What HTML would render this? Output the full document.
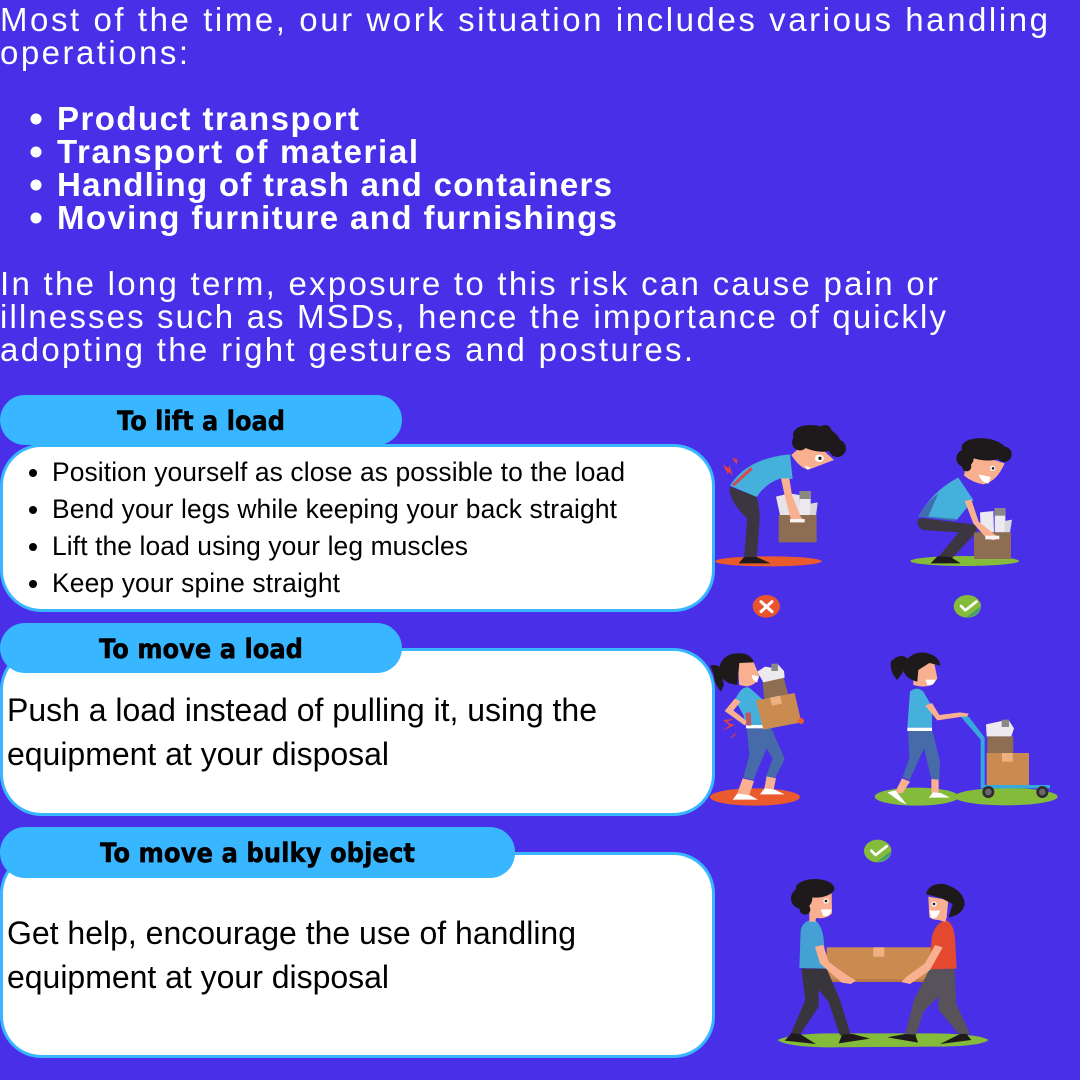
<!DOCTYPE html>
<html lang="en">
<head>
<meta charset="utf-8">
<title>Manual handling guidance</title>
<style>
html,body{margin:0;padding:0;width:1080px;height:1080px;overflow:hidden;background:#4a2fe8;}
svg{display:block;}
.intro{font-family:"Liberation Sans",sans-serif;font-size:33px;fill:#fff;}
.introb{font-family:"Liberation Sans",sans-serif;font-size:33px;font-weight:700;fill:#fff;}
.head{font-family:"DejaVu Sans",sans-serif;font-size:27px;font-weight:700;fill:#000;stroke:#000;stroke-width:.5;}
.li{font-family:"Liberation Sans",sans-serif;font-size:26.4px;fill:#000;}
.big{font-family:"Liberation Sans",sans-serif;font-size:32px;fill:#000;}
</style>
</head>
<body>
<svg width="1080" height="1080" viewBox="0 0 1080 1080" xmlns="http://www.w3.org/2000/svg">
<rect width="1080" height="1080" fill="#4a2fe8"/>

<g>
<text class="intro" x="0" y="31" textLength="1048">Most of the time, our work situation includes various handling</text>
<text class="intro" x="0" y="64" textLength="188">operations:</text>
</g>

<g>
<circle cx="36" cy="119" r="5.5" fill="#fff"/>
<circle cx="36" cy="152" r="5.5" fill="#fff"/>
<circle cx="36" cy="185" r="5.5" fill="#fff"/>
<circle cx="36" cy="218" r="5.5" fill="#fff"/>
<text class="introb" x="57" y="130" textLength="302">Product transport</text>
<text class="introb" x="57" y="163" textLength="361">Transport of material</text>
<text class="introb" x="57" y="196" textLength="555">Handling of trash and containers</text>
<text class="introb" x="57" y="229" textLength="560">Moving furniture and furnishings</text>
</g>

<g>
<text class="intro" x="0" y="295" textLength="938">In the long term, exposure to this risk can cause pain or</text>
<text class="intro" x="0" y="328" textLength="946">illnesses such as MSDs, hence the importance of quickly</text>
<text class="intro" x="0" y="361" textLength="693">adopting the right gestures and postures.</text>
</g>

<!-- Panel 1 -->
<g>
<rect x="1.5" y="445.5" width="712" height="165" rx="40" fill="#fff" stroke="#38b6ff" stroke-width="3"/>
<rect x="0" y="395" width="402" height="50" rx="25" fill="#38b6ff"/>
<text class="head" x="117" y="430" textLength="168" lengthAdjust="spacingAndGlyphs">To lift a load</text>
<circle cx="33" cy="473" r="4" fill="#000"/>
<circle cx="33" cy="510" r="4" fill="#000"/>
<circle cx="33" cy="547" r="4" fill="#000"/>
<circle cx="33" cy="584" r="4" fill="#000"/>
<text class="li" x="52" y="481" textLength="573">Position yourself as close as possible to the load</text>
<text class="li" x="52" y="518" textLength="565">Bend your legs while keeping your back straight</text>
<text class="li" x="52" y="555" textLength="416">Lift the load using your leg muscles</text>
<text class="li" x="52" y="592" textLength="288">Keep your spine straight</text>
</g>

<!-- Panel 2 -->
<g>
<rect x="1.5" y="649.5" width="712" height="165" rx="40" fill="#fff" stroke="#38b6ff" stroke-width="3"/>
<rect x="0" y="623" width="402" height="50" rx="25" fill="#38b6ff"/>
<text class="head" x="99" y="658" textLength="204" lengthAdjust="spacingAndGlyphs">To move a load</text>
<text class="big" x="7" y="721" textLength="590">Push a load instead of pulling it, using the</text>
<text class="big" x="7" y="765" textLength="382">equipment at your disposal</text>
</g>

<!-- Panel 3 -->
<g>
<rect x="1.5" y="853.5" width="712" height="203" rx="40" fill="#fff" stroke="#38b6ff" stroke-width="3"/>
<rect x="0" y="827" width="515" height="51" rx="25" fill="#38b6ff"/>
<text class="head" x="100" y="862" textLength="315" lengthAdjust="spacingAndGlyphs">To move a bulky object</text>
<text class="big" x="7" y="944" textLength="569">Get help, encourage the use of handling</text>
<text class="big" x="7" y="988" textLength="382">equipment at your disposal</text>
</g>

<!-- Lifting illustrations (drawn in 3x coordinates) -->
<g transform="translate(710,415) scale(0.33333)">
  <g>
    <ellipse cx="175" cy="439" rx="160" ry="15" fill="#ea5a2d"/>
    <path d="M58,215 L140,245 Q152,290 148,325 L140,430 L102,430 L112,310 Q58,262 58,215Z" fill="#3b3640"/>
    <path d="M86,445 L102,426 L140,426 L182,445Z" fill="#1e1a1c"/>
    <path d="M198,245 L238,235 L268,240 L272,300 L210,300Z" fill="#e6e4e8"/>
    <rect x="269" y="228" width="33" height="74" fill="#eceaee"/>
    <rect x="269" y="228" width="33" height="24" fill="#8c8884"/>
    <path d="M302,266 L323,262 L318,302 L298,302Z" fill="#d8d6da"/>
    <rect x="206" y="300" width="114" height="82" fill="#8d6e52"/>
    <path d="M60,212 Q110,130 240,118 L248,192 L212,190 Q170,202 140,246Z" fill="#45b0dc"/>
    <path d="M66,208 L72,214 L128,164 L122,156Z" fill="#e2403f" opacity=".9"/>
    <path d="M38,148 L56,160 L58,150 L68,182 L56,170 L54,178Z M66,128 L82,134 L84,126 L80,148 L74,140Z" fill="#e2403f"/>
    <path d="M213,190 L238,190 L246,240 L272,305 L284,322 L245,322 L226,250Z" fill="#f9b090"/>
    <rect x="240" y="312" width="44" height="10" fill="#f5f3f3"/>
    <path d="M244,120 L300,70 L372,135 L296,164 Q270,160 244,120Z" fill="#f9b090"/>
    <path d="M284,152 L302,158 L292,164Z" fill="#fff"/>
    <ellipse cx="328" cy="130" rx="13" ry="11" fill="#fff"/><circle cx="330" cy="130" r="5" fill="#222"/>
    <g fill="#1e1a1c">
      <ellipse cx="320" cy="70" rx="72" ry="38" transform="rotate(12 320 70)"/>
      <circle cx="270" cy="82" r="24"/>
      <circle cx="382" cy="100" r="26"/>
      <circle cx="300" cy="48" r="17"/>
      <circle cx="345" cy="50" r="20"/>
    </g>
  </g>
  <g>
    <ellipse cx="169" cy="574" rx="41" ry="34" fill="#e9542f"/>
    <path d="M153,560 L186,590 M186,560 L153,590" stroke="#fff" stroke-width="9" stroke-linecap="round"/>
  </g>
  <g>
    <ellipse cx="764" cy="438" rx="163" ry="15" fill="#84bb3a"/>
    <path d="M622,320 Q622,308 640,310 L790,328 Q806,338 798,352 L728,428 L682,430 L746,352 L640,345 Q624,340 622,320Z" fill="#3b3640"/>
    <path d="M662,445 L682,424 L722,426 L752,445Z" fill="#1e1a1c"/>
    <path d="M810,292 L850,288 L852,352 L812,350Z" fill="#eceaee"/>
    <rect x="854" y="280" width="32" height="72" fill="#eceaee"/>
    <rect x="854" y="280" width="32" height="22" fill="#8c8884"/>
    <path d="M884,318 L906,314 L900,352 L884,352Z" fill="#d8d6da"/>
    <rect x="792" y="352" width="111" height="80" fill="#8d6e52"/>
    <path d="M625,305 Q670,225 745,188 L790,255 L740,315 Z" fill="#45b0dc"/>
    <path d="M625,305 Q650,260 685,235 L655,305 L740,312 L735,318Z" fill="#3f6fb0"/>
    <path d="M764,258 L784,254 L806,320 L862,365 L852,376 L830,370 L790,325Z" fill="#f9b090"/>
    <rect x="826" y="362" width="42" height="11" fill="#f5f3f3"/>
    <path d="M762,182 L775,110 L884,145 Q860,200 820,208 Q790,204 762,182Z" fill="#f9b090"/>
    <path d="M806,178 L842,186 L836,205 Q814,204 806,178Z" fill="#fff"/>
    <circle cx="848" cy="160" r="8" fill="#fff"/><circle cx="849" cy="160" r="4" fill="#222"/>
    <g fill="#1e1a1c">
      <ellipse cx="822" cy="103" rx="68" ry="33" transform="rotate(6 822 103)"/>
      <circle cx="765" cy="130" r="26"/>
      <circle cx="782" cy="98" r="22"/>
      <circle cx="882" cy="118" r="23"/>
      <circle cx="770" cy="155" r="14"/>
    </g>
  </g>
  <g>
    <ellipse cx="772" cy="574" rx="41" ry="34" fill="#84bb3a"/>
    <path d="M770,607 L812,574 Q810,600 772,607Z" fill="#3f9f74"/>
    <path d="M753,573 L766,586 L799,560" fill="none" stroke="#fff" stroke-width="8" stroke-linecap="round" stroke-linejoin="round"/>
  </g>
</g>

<!-- Moving illustrations -->
<g transform="translate(700,635) scale(0.33333)">
  <g>
    <ellipse cx="165" cy="486" rx="135" ry="26" fill="#ea5a2d"/>
    <path d="M140,275 L212,275 L254,372 L224,432 L196,430 L218,370 L200,340 L160,435 L130,428 L148,360Z" fill="#466ba8"/>
    <path d="M128,430 L162,438 L148,480 L110,480Z" fill="#f9b090"/>
    <path d="M200,424 L228,430 L220,468 L192,466Z" fill="#f9b090"/>
    <path d="M98,494 L112,476 L148,480 L174,494Z M180,478 L194,460 L224,464 L254,478Z" fill="#fff"/>
    <path d="M105,195 Q125,150 148,158 L195,200 L190,270 L138,272 L130,240Z" fill="#45b0dc"/>
    <path d="M105,190 L74,228 L135,272 L140,258 L100,226 L122,200Z" fill="#f9b090"/>
    <rect x="138" y="270" width="52" height="10" fill="#fff"/>
    <path d="M70,255 L100,252 L80,262 L104,270 L66,288 L88,272Z M88,312 L112,288 L102,302 L112,298Z" fill="#e2403f"/>
    <path d="M136,234 L152,232 L154,272 L140,272Z" fill="#e2403f" opacity=".8"/>
    <path d="M188,140 L250,125 L268,190 L192,190Z" fill="#8d6e52"/>
    <path d="M172,110 L195,95 L214,98 L232,86 L252,108 L254,128 L190,142Z" fill="#eceaee"/>
    <rect x="214" y="86" width="20" height="22" fill="#8c8884"/>
    <path d="M168,196 L284,174 L304,262 L190,284Z" fill="#c98b4f"/>
    <path d="M210,188 L240,182 L246,206 L216,212Z" fill="#eeb080"/>
    <circle cx="303" cy="258" r="9" fill="#ea5a2d"/>
    <path d="M112,80 L160,80 L178,122 Q172,150 140,154 L118,150Z" fill="#f9b090"/>
    <path d="M155,120 L176,124 L172,142 Q158,140 155,120Z" fill="#fff"/>
    <path d="M56,108 Q60,62 105,55 Q150,50 162,82 L118,84 L112,150 Q65,145 56,108Z" fill="#1e1a1c"/>
    <path d="M30,92 Q62,85 62,110 L72,150 L62,170 Q40,140 42,120Z" fill="#1e1a1c"/>
  </g>
  <g>
    <ellipse cx="650" cy="485" rx="126" ry="27" fill="#84bb3a"/>
    <ellipse cx="918" cy="485" rx="155" ry="26" fill="#84bb3a"/>
    <path d="M624,282 L696,282 L720,380 L718,434 L694,432 L672,340 L628,436 L608,426 L628,370Z" fill="#466ba8"/>
    <path d="M606,430 L630,440 L608,474 L584,474Z" fill="#f9b090"/>
    <path d="M694,432 L716,434 L716,476 L694,476Z" fill="#f9b090"/>
    <path d="M562,472 L586,466 L620,508 L600,500Z M686,488 L700,472 L722,474 L750,488Z" fill="#fff"/>
    <path d="M630,170 Q650,152 670,170 L696,215 L696,278 L622,278Z" fill="#45b0dc"/>
    <rect x="622" y="278" width="74" height="10" fill="#fff"/>
    <path d="M676,212 L696,204 L718,240 L780,232 L806,236 L800,248 L780,246 L712,256Z" fill="#f9b090"/>
    <path d="M640,80 L702,80 L712,130 Q698,158 660,154 L640,150Z" fill="#f9b090"/>
    <path d="M676,134 L706,134 Q702,155 682,150Z" fill="#fff"/>
    <path d="M610,100 Q620,55 665,52 Q715,55 722,92 L688,84 L655,105 L652,140 Q612,130 610,100Z" fill="#1e1a1c"/>
    <path d="M572,80 Q600,52 622,70 L610,110 L592,135 Q570,115 572,80Z" fill="#1e1a1c"/>
    <path d="M782,245 L806,245 L854,308 L854,450 L1050,450 L1050,460 L842,460 L842,314Z" fill="#36a8dc"/>
    <rect x="860" y="354" width="127" height="96" fill="#c98b4f"/>
    <rect x="906" y="354" width="32" height="26" fill="#eeb080"/>
    <rect x="862" y="304" width="78" height="50" fill="#8d6e52"/>
    <path d="M858,268 L905,258 L925,254 L942,280 L934,304 L860,304Z" fill="#eceaee"/>
    <rect x="905" y="254" width="22" height="22" fill="#8c8884"/>
    <circle cx="865" cy="471" r="18" fill="#2f2b2e"/><circle cx="865" cy="471" r="10" fill="#6b686b"/>
    <circle cx="1027" cy="471" r="18" fill="#2f2b2e"/><circle cx="1027" cy="471" r="10" fill="#6b686b"/>
  </g>
</g>

<!-- Team lift illustration -->
<g transform="translate(760,830) scale(0.33333)">
  <g>
    <ellipse cx="353" cy="63" rx="41" ry="34" fill="#84bb3a"/>
    <path d="M351,96 L393,63 Q391,89 353,96Z" fill="#3f9f74"/>
    <path d="M334,62 L347,75 L380,49" fill="none" stroke="#fff" stroke-width="8" stroke-linecap="round" stroke-linejoin="round"/>
  </g>
  <g>
    <path d="M52,630 Q90,612 200,610 L520,610 Q660,612 686,630 Q660,650 520,650 L200,652 Q80,650 52,630Z" fill="#84bb3a"/>
    <rect x="200" y="352" width="315" height="104" fill="#c98b4f"/>
    <rect x="340" y="352" width="33" height="28" fill="#eeb080"/>
    <rect x="200" y="448" width="315" height="8" fill="#b87a45"/>
    <path d="M124,416 L200,416 L240,510 L272,614 L240,616 L205,515 L176,480 L176,530 L120,614 L92,612 L136,510Z" fill="#39353c"/>
    <path d="M74,632 L94,610 L120,612 L168,642Z M236,640 L246,614 L278,612 L330,626Z" fill="#1e1a1c"/>
    <path d="M122,300 Q130,268 165,270 Q190,290 192,340 L198,416 L118,414Z" fill="#45a0d4"/>
    <path d="M165,350 L190,345 L206,396 L262,436 L288,452 L272,462 L245,458 L180,400Z" fill="#f9b090"/>
    <path d="M148,200 L215,190 L216,250 Q200,268 168,264 L166,276 L148,274Z" fill="#f9b090"/>
    <path d="M182,238 L215,238 Q210,262 190,258Z" fill="#fff"/>
    <circle cx="198" cy="213" r="8" fill="#fff"/><circle cx="198" cy="213" r="4" fill="#222"/>
    <g fill="#1e1a1c">
      <ellipse cx="165" cy="175" rx="58" ry="28"/>
      <circle cx="125" cy="205" r="32"/>
      <circle cx="135" cy="238" r="16"/>
    </g>
    <path d="M508,418 L584,416 L588,520 L630,612 L600,616 L535,538 L535,500 L490,545 L468,616 L436,612 L462,510Z" fill="#58535a"/>
    <path d="M382,622 L436,612 L466,614 L474,638Z M540,642 L600,612 L620,612 L634,630Z" fill="#1e1a1c"/>
    <path d="M516,318 Q530,272 562,272 Q584,285 586,340 L590,416 L506,418Z" fill="#e2492f"/>
    <path d="M525,345 L548,352 L510,420 L450,462 L424,456 L440,440 L495,400Z" fill="#f9b090"/>
    <path d="M505,200 L565,210 L560,262 L556,276 L536,270 Q520,270 508,262Z" fill="#f9b090"/>
    <path d="M508,242 L540,242 Q532,270 514,264Z" fill="#fff"/>
    <circle cx="522" cy="222" r="8" fill="#fff"/><circle cx="522" cy="222" r="4" fill="#222"/>
    <path d="M498,192 Q508,158 552,162 Q612,180 614,222 Q608,255 566,262 L578,222 L545,205 Z" fill="#1e1a1c"/>
  </g>
</g>
</svg>
</body>
</html>
